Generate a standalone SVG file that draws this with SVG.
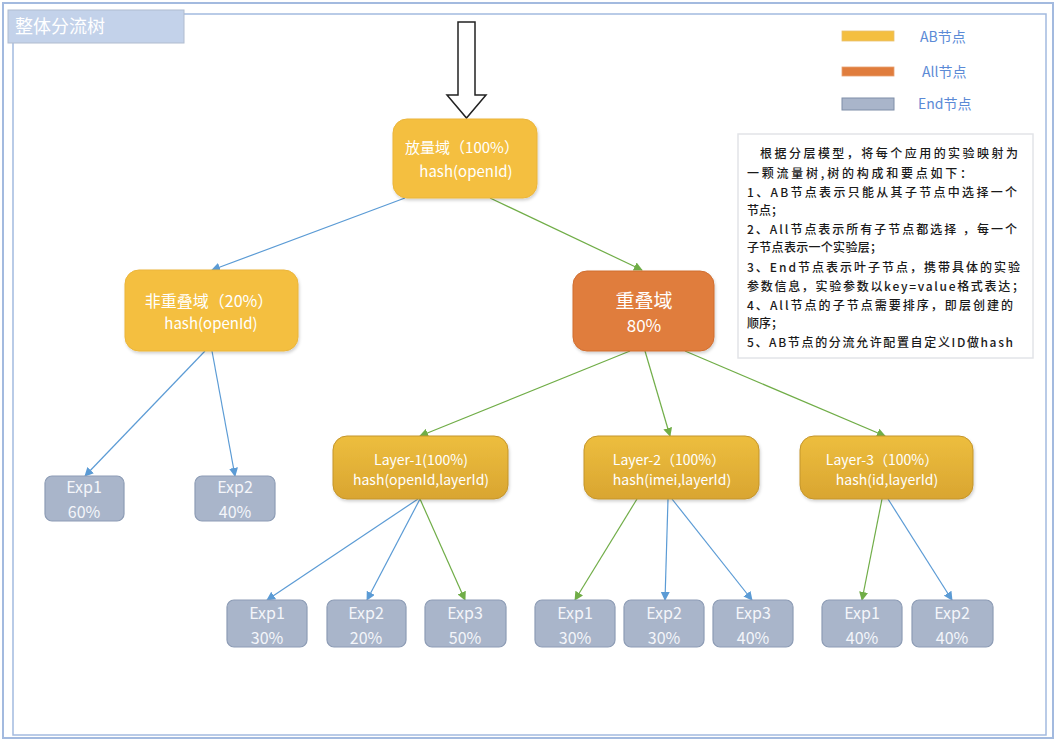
<svg xmlns="http://www.w3.org/2000/svg" width="1057" height="741" viewBox="0 0 1057 741">
<defs>
<marker id="ab" viewBox="0 0 10 10" refX="9" refY="5" markerWidth="9" markerHeight="9" markerUnits="userSpaceOnUse" orient="auto"><path d="M0,0 L10,5 L0,10 z" fill="#5B9BD5"/></marker>
<marker id="ag" viewBox="0 0 10 10" refX="9" refY="5" markerWidth="9" markerHeight="9" markerUnits="userSpaceOnUse" orient="auto"><path d="M0,0 L10,5 L0,10 z" fill="#70AD47"/></marker>
<linearGradient id="lg" x1="0" y1="0" x2="0" y2="1"><stop offset="0" stop-color="#EDBE3E"/><stop offset="1" stop-color="#D9A531"/></linearGradient>
<filter id="sh" x="-10%" y="-10%" width="130%" height="130%"><feDropShadow dx="1" dy="2" stdDeviation="1.5" flood-color="#000" flood-opacity="0.18"/></filter>
</defs>
<style>
text{font-family:"Noto Sans CJK SC","Liberation Sans",sans-serif;}
.ab{fill:#F4BF40;stroke:#EBB53A;stroke-width:1;filter:url(#sh);}
.all{fill:#E07D3D;stroke:#D06E30;stroke-width:1;filter:url(#sh);}
.ly{fill:url(#lg);stroke:#C4952B;stroke-width:1;filter:url(#sh);}
.end{fill:#A9B5CA;stroke:#8D9CB5;stroke-width:1.2;}
.nt{fill:#FFFFFF;font-size:15px;text-anchor:middle;}
.et{fill:#F4F6FA;font-size:16px;text-anchor:middle;}
.lt{fill:#5B8AD6;font-size:14px;}
.bt{fill:#1A1A1A;font-size:12px;font-weight:500;}
.cb{stroke:#5B9BD5;stroke-width:1.2;fill:none;marker-end:url(#ab);}
.cg{stroke:#70AD47;stroke-width:1.2;fill:none;marker-end:url(#ag);}
</style>
<rect x="0" y="0" width="1057" height="741" fill="#FFFFFF"/>
<rect x="3" y="3" width="1050" height="735" fill="none" stroke="#A3BADF" stroke-width="2"/>
<rect x="13" y="14" width="1033" height="721" fill="none" stroke="#A3BADF" stroke-width="1.5"/>
<g id="title">
<rect x="8" y="10" width="176" height="33" fill="#C3D2EA" stroke="#B0BCCF" stroke-width="1"/>
<text x="15" y="33" style="fill:#FFFFFF;font-size:18px;">整体分流树</text>
</g>
<g id="entry-arrow">
<path d="M458,22 L475,22 L475,95 L486,95 L466.5,118 L447,95 L458,95 Z" fill="#FFFFFF" stroke="#222" stroke-width="1.5"/>
</g>
<g id="legend">
<rect x="842" y="31" width="52" height="10" fill="#F4BF40" stroke="#E8C070" stroke-width="0.8"/>
<text x="920" y="42" class="lt">AB节点</text>
<rect x="842" y="67" width="52" height="9" fill="#E07D3D" stroke="#E8A070" stroke-width="0.8"/>
<text x="922" y="77" class="lt">All节点</text>
<rect x="842" y="98" width="52" height="12" fill="#A9B5CA" stroke="#7F8EA8" stroke-width="1"/>
<text x="918" y="109" class="lt">End节点</text>
</g>
<g id="notes">
<rect x="738" y="134" width="295" height="224" fill="#FFFFFF" stroke="#E2E4E8" stroke-width="1.5"/>
<text x="760" y="158" class="bt" textLength="258" lengthAdjust="spacing">根据分层模型，将每个应用的实验映射为</text>
<text x="747" y="178" class="bt" textLength="225" lengthAdjust="spacing">一颗流量树,树的构成和要点如下：</text>
<text x="747" y="197" class="bt" textLength="270" lengthAdjust="spacing">1、AB节点表示只能从其子节点中选择一个</text>
<text x="747" y="215" class="bt">节点；</text>
<text x="747" y="234" class="bt" textLength="270" lengthAdjust="spacing">2、All节点表示所有子节点都选择 ，每一个</text>
<text x="747" y="252" class="bt" textLength="135" lengthAdjust="spacing">子节点表示一个实验层；</text>
<text x="747" y="272" class="bt" textLength="273" lengthAdjust="spacing">3、End节点表示叶子节点，携带具体的实验</text>
<text x="747" y="291" class="bt" textLength="277" lengthAdjust="spacing">参数信息，实验参数以key=value格式表达；</text>
<text x="747" y="310" class="bt" textLength="266" lengthAdjust="spacing">4、All节点的子节点需要排序，即层创建的</text>
<text x="747" y="328" class="bt">顺序；</text>
<text x="747" y="347" class="bt" textLength="266" lengthAdjust="spacing">5、AB节点的分流允许配置自定义ID做hash</text>
</g>
<g id="connectors">
<line x1="405" y1="198" x2="212" y2="270" class="cb"/>
<line x1="490" y1="198" x2="642" y2="270" class="cg"/>
<line x1="205" y1="351" x2="85" y2="476" class="cb"/>
<line x1="212" y1="351" x2="235" y2="476" class="cb"/>
<line x1="630" y1="351" x2="420" y2="436" class="cg"/>
<line x1="645" y1="351" x2="670" y2="436" class="cg"/>
<line x1="685" y1="351" x2="885" y2="436" class="cg"/>
<line x1="418" y1="499" x2="267" y2="600" class="cb"/>
<line x1="420" y1="499" x2="367" y2="600" class="cb"/>
<line x1="420" y1="499" x2="465" y2="600" class="cg"/>
<line x1="637" y1="499" x2="575" y2="600" class="cg"/>
<line x1="668" y1="499" x2="665" y2="600" class="cb"/>
<line x1="672" y1="499" x2="752" y2="600" class="cb"/>
<line x1="882" y1="499" x2="862" y2="600" class="cg"/>
<line x1="888" y1="499" x2="952" y2="600" class="cb"/>
</g>
<g id="root">
<rect x="393" y="119" width="144" height="79" rx="14" class="ab"/>
<text x="462" y="153" class="nt">放量域（100%）</text>
<text x="466" y="177" class="nt">hash(openId)</text>
</g>
<g id="non-overlap">
<rect x="125" y="270" width="173" height="81" rx="14" class="ab"/>
<text x="209" y="307" class="nt" style="font-size:16px;">非重叠域（20%）</text>
<text x="211" y="329" class="nt">hash(openId)</text>
</g>
<g id="overlap">
<rect x="573" y="271" width="141" height="80" rx="14" class="all"/>
<text x="644" y="308" class="nt" style="font-size:19px;">重叠域</text>
<text x="644" y="332" class="nt" style="font-size:17px;">80%</text>
</g>
<g id="layer1">
<rect x="333" y="436" width="175" height="63" rx="14" class="ly"/>
<text x="421" y="465" class="nt" style="font-size:14px;">Layer-1(100%)</text>
<text x="421" y="485" class="nt" style="font-size:14px;">hash(openId,layerId)</text>
</g>
<g id="layer2">
<rect x="584" y="436" width="175" height="63" rx="14" class="ly"/>
<text x="669" y="465" class="nt" style="font-size:14px;">Layer-2（100%）</text>
<text x="672" y="485" class="nt" style="font-size:14px;">hash(imei,layerId)</text>
</g>
<g id="layer3">
<rect x="800" y="436" width="173" height="63" rx="14" class="ly"/>
<text x="882" y="465" class="nt" style="font-size:14px;">Layer-3（100%）</text>
<text x="887" y="485" class="nt" style="font-size:14px;">hash(id,layerId)</text>
</g>
<g id="nol-exp1">
<rect x="45" y="476" width="79" height="45" rx="7" class="end"/>
<text x="84" y="493" class="et">Exp1</text>
<text x="84" y="518" class="et">60%</text>
</g>
<g id="nol-exp2">
<rect x="195" y="476" width="80" height="45" rx="7" class="end"/>
<text x="235" y="493" class="et">Exp2</text>
<text x="235" y="518" class="et">40%</text>
</g>
<g id="l1-exp1">
<rect x="227" y="600" width="80" height="47" rx="7" class="end"/>
<text x="267" y="619" class="et">Exp1</text>
<text x="267" y="644" class="et">30%</text>
</g>
<g id="l1-exp2">
<rect x="327" y="600" width="79" height="47" rx="7" class="end"/>
<text x="366" y="619" class="et">Exp2</text>
<text x="366" y="644" class="et">20%</text>
</g>
<g id="l1-exp3">
<rect x="425" y="600" width="81" height="47" rx="7" class="end"/>
<text x="465" y="619" class="et">Exp3</text>
<text x="465" y="644" class="et">50%</text>
</g>
<g id="l2-exp1">
<rect x="535" y="600" width="80" height="47" rx="7" class="end"/>
<text x="575" y="619" class="et">Exp1</text>
<text x="575" y="644" class="et">30%</text>
</g>
<g id="l2-exp2">
<rect x="624" y="600" width="80" height="47" rx="7" class="end"/>
<text x="664" y="619" class="et">Exp2</text>
<text x="664" y="644" class="et">30%</text>
</g>
<g id="l2-exp3">
<rect x="713" y="600" width="80" height="47" rx="7" class="end"/>
<text x="753" y="619" class="et">Exp3</text>
<text x="753" y="644" class="et">40%</text>
</g>
<g id="l3-exp1">
<rect x="822" y="600" width="80" height="47" rx="7" class="end"/>
<text x="862" y="619" class="et">Exp1</text>
<text x="862" y="644" class="et">40%</text>
</g>
<g id="l3-exp2">
<rect x="912" y="600" width="81" height="47" rx="7" class="end"/>
<text x="952" y="619" class="et">Exp2</text>
<text x="952" y="644" class="et">40%</text>
</g>
</svg>
